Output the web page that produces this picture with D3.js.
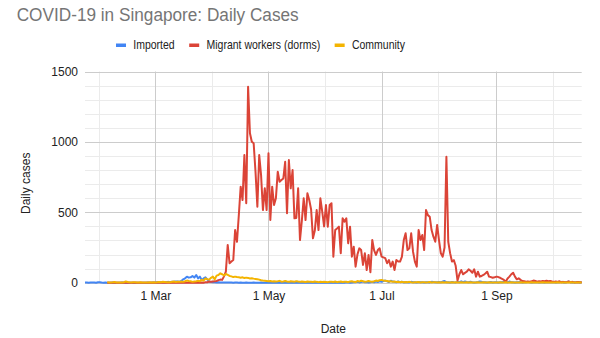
<!DOCTYPE html>
<html><head><meta charset="utf-8">
<script src="https://cdn.jsdelivr.net/npm/d3@7"></script>
<style>
body{margin:0;background:#fff}
svg{display:block}
text{font-family:"Liberation Sans",Arial,sans-serif}
</style>
</head><body>
<svg id="chart" width="600" height="338"></svg>
<script>
// ---------- data ----------
const chartTitle = "COVID-19 in Singapore: Daily Cases";
const xAxisTitle = "Date";
const yAxisTitle = "Daily cases";
const seriesNames = ["Imported", "Migrant workers (dorms)", "Community"];
const firstDay = "2020-01-23";   // one value per day from here to 17 Oct 2020
const xTickDates = ["2020-03-01", "2020-05-01", "2020-07-01", "2020-09-01"];
const yTicks = [0, 500, 1000, 1500];

const imported = [
  // Jan 23-31
  1,2,0,1,1,2,0,3,3,
  // Feb
  1,0,1,0,0,0,1,0,0,0, 0,1,0,0,0,0,0,0,0,0, 0,0,0,0,0,1,0,1,2,
  // Mar
  2,3,2,4,3,5,4,6,3,7, 6,8,9,7,12,24,31,43,36,38, 48,36,55,31,43,19,30,38,24,7, 5,
  // Apr
  4,3,2,3,2,1,2,1,1,2, 1,0,1,1,0,1,0,0,1,0, 0,0,1,0,0,0,1,0,0,0,
  // May
  0,0,0,1,0,0,0,0,0,0, 0,0,0,0,0,0,0,0,0,1, 0,0,0,0,0,0,0,0,1,0, 0,
  // Jun
  0,0,0,0,0,0,0,0,0,2, 0,3,1,0,2,4,3,6,2,5, 8,3,5,2,4,6,3,8,5,10,
  // Jul
  7,12,15,10,5,14,8,6,3,9, 4,7,2,5,3,2,6,4,3,2, 5,3,4,2,3,4,2,6,5,3, 4,
  // Aug
  5,3,8,12,4,3,2,5,3,2, 6,3,10,4,8,5,3,7,4,2, 3,5,8,6,3,4,2,3,5,2, 4,
  // Sep
  3,2,4,3,5,6,3,8,4,3, 2,4,3,5,2,3,4,6,3,2, 4,3,5,2,4,3,2,5,3,4,
  // Oct 1-17
  3,5,2,4,3,6,2,3,4,8, 3,2,4,3,5,2,3
];

const dorms = [
  // Jan 23-31
  null,null,null,null,null,null,null,null,null,
  // Feb
  null,null,null,0,0,0,0,0,0,0, 0,0,0,0,0,0,0,0,0,0, 0,0,0,0,0,0,0,0,0,
  // Mar
  0,0,0,0,0,0,0,0,0,0, 0,0,0,0,0,0,0,0,0,0, 0,0,0,0,0,2,0,4,3,8, 6,
  // Apr
  8,10,12,18,22,20,45,78,268,138, 150,161,374,291,481,682,587,907,564,1392,
  1061,1001,990,788,540,907,765,516,670,516,
  // May
  919,445,682,552,600,788,717,729,740,859, 493,871,670,800,457,460,670,303,440,599,
  445,635,587,520,315,370,516,374,599,504, 400,
  // Jun
  552,398,552,564,185,374,385,398,209,457, 433,457,280,398,185,256,114,200,244,232,
  126,209,90,197,75,303,230,197,232,244,
  // Jul
  185,180,174,138,161,114,150,90,161,150, 150,185,303,351,232,244,351,220,150,114,
  374,303,339,232,516,480,469,374,327,291, 410,
  // Aug
  303,209,185,250,895,291,210,150,160,120, 15,60,90,60,70,78,95,85,71,95,
  43,78,43,48,55,65,78,43,40,35, 38,
  // Sep
  43,40,35,28,20,7,30,43,60,71, 43,24,31,20,12,10,7,8,7,10, 15,12,7,10,8,12,10,14,10,12,
  // Oct 1-17
  8,6,9,5,10,4,6,3,5,8, 4,6,2,3,5,3,4
];

const community = [
  // Jan 23-31
  null,null,null,null,null,null,null,null,null,
  // Feb
  null,null,null,4,2,2,3,5,2,1, 2,2,3,9,5,3,2,3,3,1, 1,3,1,1,1,2,3,2,4,
  // Mar
  2,3,5,4,6,5,4,3,4,6, 8,5,7,6,9,6,10,15,12,10, 6,9,10,13,11,20,14,30,25,22, 35,
  // Apr
  43,24,50,55,67,60,52,62,55,48, 45,40,43,40,38,35,38,33,36,34, 30,32,29,27,25,22,17,15,14,12,
  // May
  10,12,9,11,8,10,13,7,9,12, 8,6,10,9,7,11,8,6,9,7, 5,8,6,7,5,9,6,4,7,5, 6,
  // Jun
  5,4,6,7,5,8,4,6,9,5, 7,6,4,8,10,6,5,12,8,14, 10,7,9,12,8,6,10,15,12,18,
  // Jul
  20,16,14,12,8,10,6,8,5,7, 4,6,3,5,4,6,3,2,4,3, 5,2,4,3,2,3,5,2,4,3, 2,
  // Aug
  3,2,4,2,3,1,2,4,2,3, 1,2,3,2,1,3,2,4,2,1, 2,3,1,2,4,2,1,3,2,1, 2,
  // Sep
  1,2,3,1,2,4,2,1,3,2, 1,2,1,3,2,1,2,1,2,3, 1,2,1,2,1,3,1,2,1,2,
  // Oct 1-17
  1,2,1,3,2,1,2,1,2,1, 3,1,2,1,2,1,2
];

// ---------- styling ----------
const colors = ["#4285f4", "#db4437", "#f4b400"];
const svg = d3.select("#chart");
const plot = {left: 85, right: 581.7, top: 71.5, bottom: 282.7};

const start = d3.utcParse("%Y-%m-%d")(firstDay);
const dates = imported.map((_, i) => d3.utcDay.offset(start, i));
const table = [imported, dorms, community];

const x = d3.scaleUtc()
  .domain([dates[0], dates[dates.length - 1]])
  .range([plot.left, plot.right]);
const y = d3.scaleLinear()
  .domain([yTicks[0], yTicks[yTicks.length - 1]])
  .range([plot.bottom, plot.top]);

const majorX = xTickDates.map(d3.utcParse("%Y-%m-%d"));
const majorPx = majorX.map(x);

// minor vertical grid: midway between labelled lines
const step = majorPx[1] - majorPx[0];
const minorPx = [];
for (let i = -1; i < majorPx.length; i++) {
  const p = (i < 0 ? majorPx[0] - step / 2 : majorPx[i] + step / 2);
  if (p > plot.left && p < plot.right) minorPx.push(p);
}

const grid = svg.append("g");
// horizontal minor gridlines
const minorY = d3.range(yTicks[0], yTicks[yTicks.length - 1] + 1, 100).filter(v => !yTicks.includes(v));
grid.selectAll("line.hmin").data(minorY).join("line")
  .attr("x1", plot.left).attr("x2", plot.right)
  .attr("y1", d => Math.round(y(d)) + 0.5).attr("y2", d => Math.round(y(d)) + 0.5)
  .attr("stroke", "#ebebeb").attr("stroke-width", 1);
grid.selectAll("line.vmin").data(minorPx).join("line")
  .attr("x1", d => Math.round(d) + 0.5).attr("x2", d => Math.round(d) + 0.5)
  .attr("y1", plot.top).attr("y2", plot.bottom)
  .attr("stroke", "#ebebeb").attr("stroke-width", 1);
grid.selectAll("line.hmaj").data(yTicks).join("line")
  .attr("x1", plot.left).attr("x2", plot.right)
  .attr("y1", d => Math.round(y(d)) + 0.5).attr("y2", d => Math.round(y(d)) + 0.5)
  .attr("stroke", "#cccccc").attr("stroke-width", 1);
grid.selectAll("line.vmaj").data(majorPx).join("line")
  .attr("x1", d => Math.round(d) + 0.5).attr("x2", d => Math.round(d) + 0.5)
  .attr("y1", plot.top).attr("y2", plot.bottom)
  .attr("stroke", "#cccccc").attr("stroke-width", 1);

// y axis labels
const yAxis = d3.axisLeft(y).tickValues(yTicks).tickSize(0).tickPadding(0).tickFormat(d3.format("d"));
const yg = svg.append("g").attr("transform", `translate(78,0)`).call(yAxis);
yg.select(".domain").remove();
yg.selectAll("text").attr("font-size", 12).attr("fill", "#222")
  .attr("font-family", '"Liberation Sans",Arial,sans-serif').attr("dy", "0.34em");

// x axis labels
const xAxis = d3.axisBottom(x).tickValues(majorX).tickSize(0).tickPadding(0)
  .tickFormat(d3.utcFormat("%-d %b"));
const xg = svg.append("g").attr("transform", `translate(0,300.3)`).call(xAxis);
xg.select(".domain").remove();
xg.selectAll("text").attr("font-size", 12).attr("fill", "#222")
  .attr("font-family", '"Liberation Sans",Arial,sans-serif').attr("dy", 0).attr("y", 0);

// axis titles
svg.append("text").text(xAxisTitle)
  .attr("x", (plot.left + plot.right) / 2).attr("y", 332.5)
  .attr("text-anchor", "middle").attr("font-size", 12).attr("fill", "#222");
svg.append("text").text(yAxisTitle)
  .attr("transform", "translate(29.5,183.3) rotate(-90)")
  .attr("text-anchor", "middle").attr("font-size", 12).attr("fill", "#222");

// series lines
const line = d3.line()
  .defined(d => d.v != null)
  .x(d => x(d.date)).y(d => y(d.v));
table.forEach((vals, k) => {
  svg.append("path")
    .datum(vals.map((v, i) => ({date: dates[i], v})))
    .attr("fill", "none")
    .attr("stroke", colors[k])
    .attr("stroke-width", 2)
    .attr("stroke-linejoin", "round")
    .attr("d", line);
});

// title
svg.append("text").text(chartTitle)
  .attr("x", 16.7).attr("y", 20.5)
  .attr("font-size", 17.5).attr("fill", "#757575")
  .attr("textLength", 282).attr("lengthAdjust", "spacingAndGlyphs");

// legend
const lg = svg.append("g");
let lx = 116;
const squeeze = 0.84;
seriesNames.forEach((name, k) => {
  lg.append("rect").attr("x", lx).attr("y", 43.5).attr("width", 10).attr("height", 3.5)
    .attr("fill", colors[k]);
  const t = lg.append("text").text(name)
    .attr("transform", `translate(${lx + 17.3},49.2) scale(${squeeze},1)`)
    .attr("font-size", 12.5).attr("fill", "#222");
  const w = t.node().getComputedTextLength() * squeeze;
  lx += 17.3 + w + 14.5;
});
</script>
</body></html>
